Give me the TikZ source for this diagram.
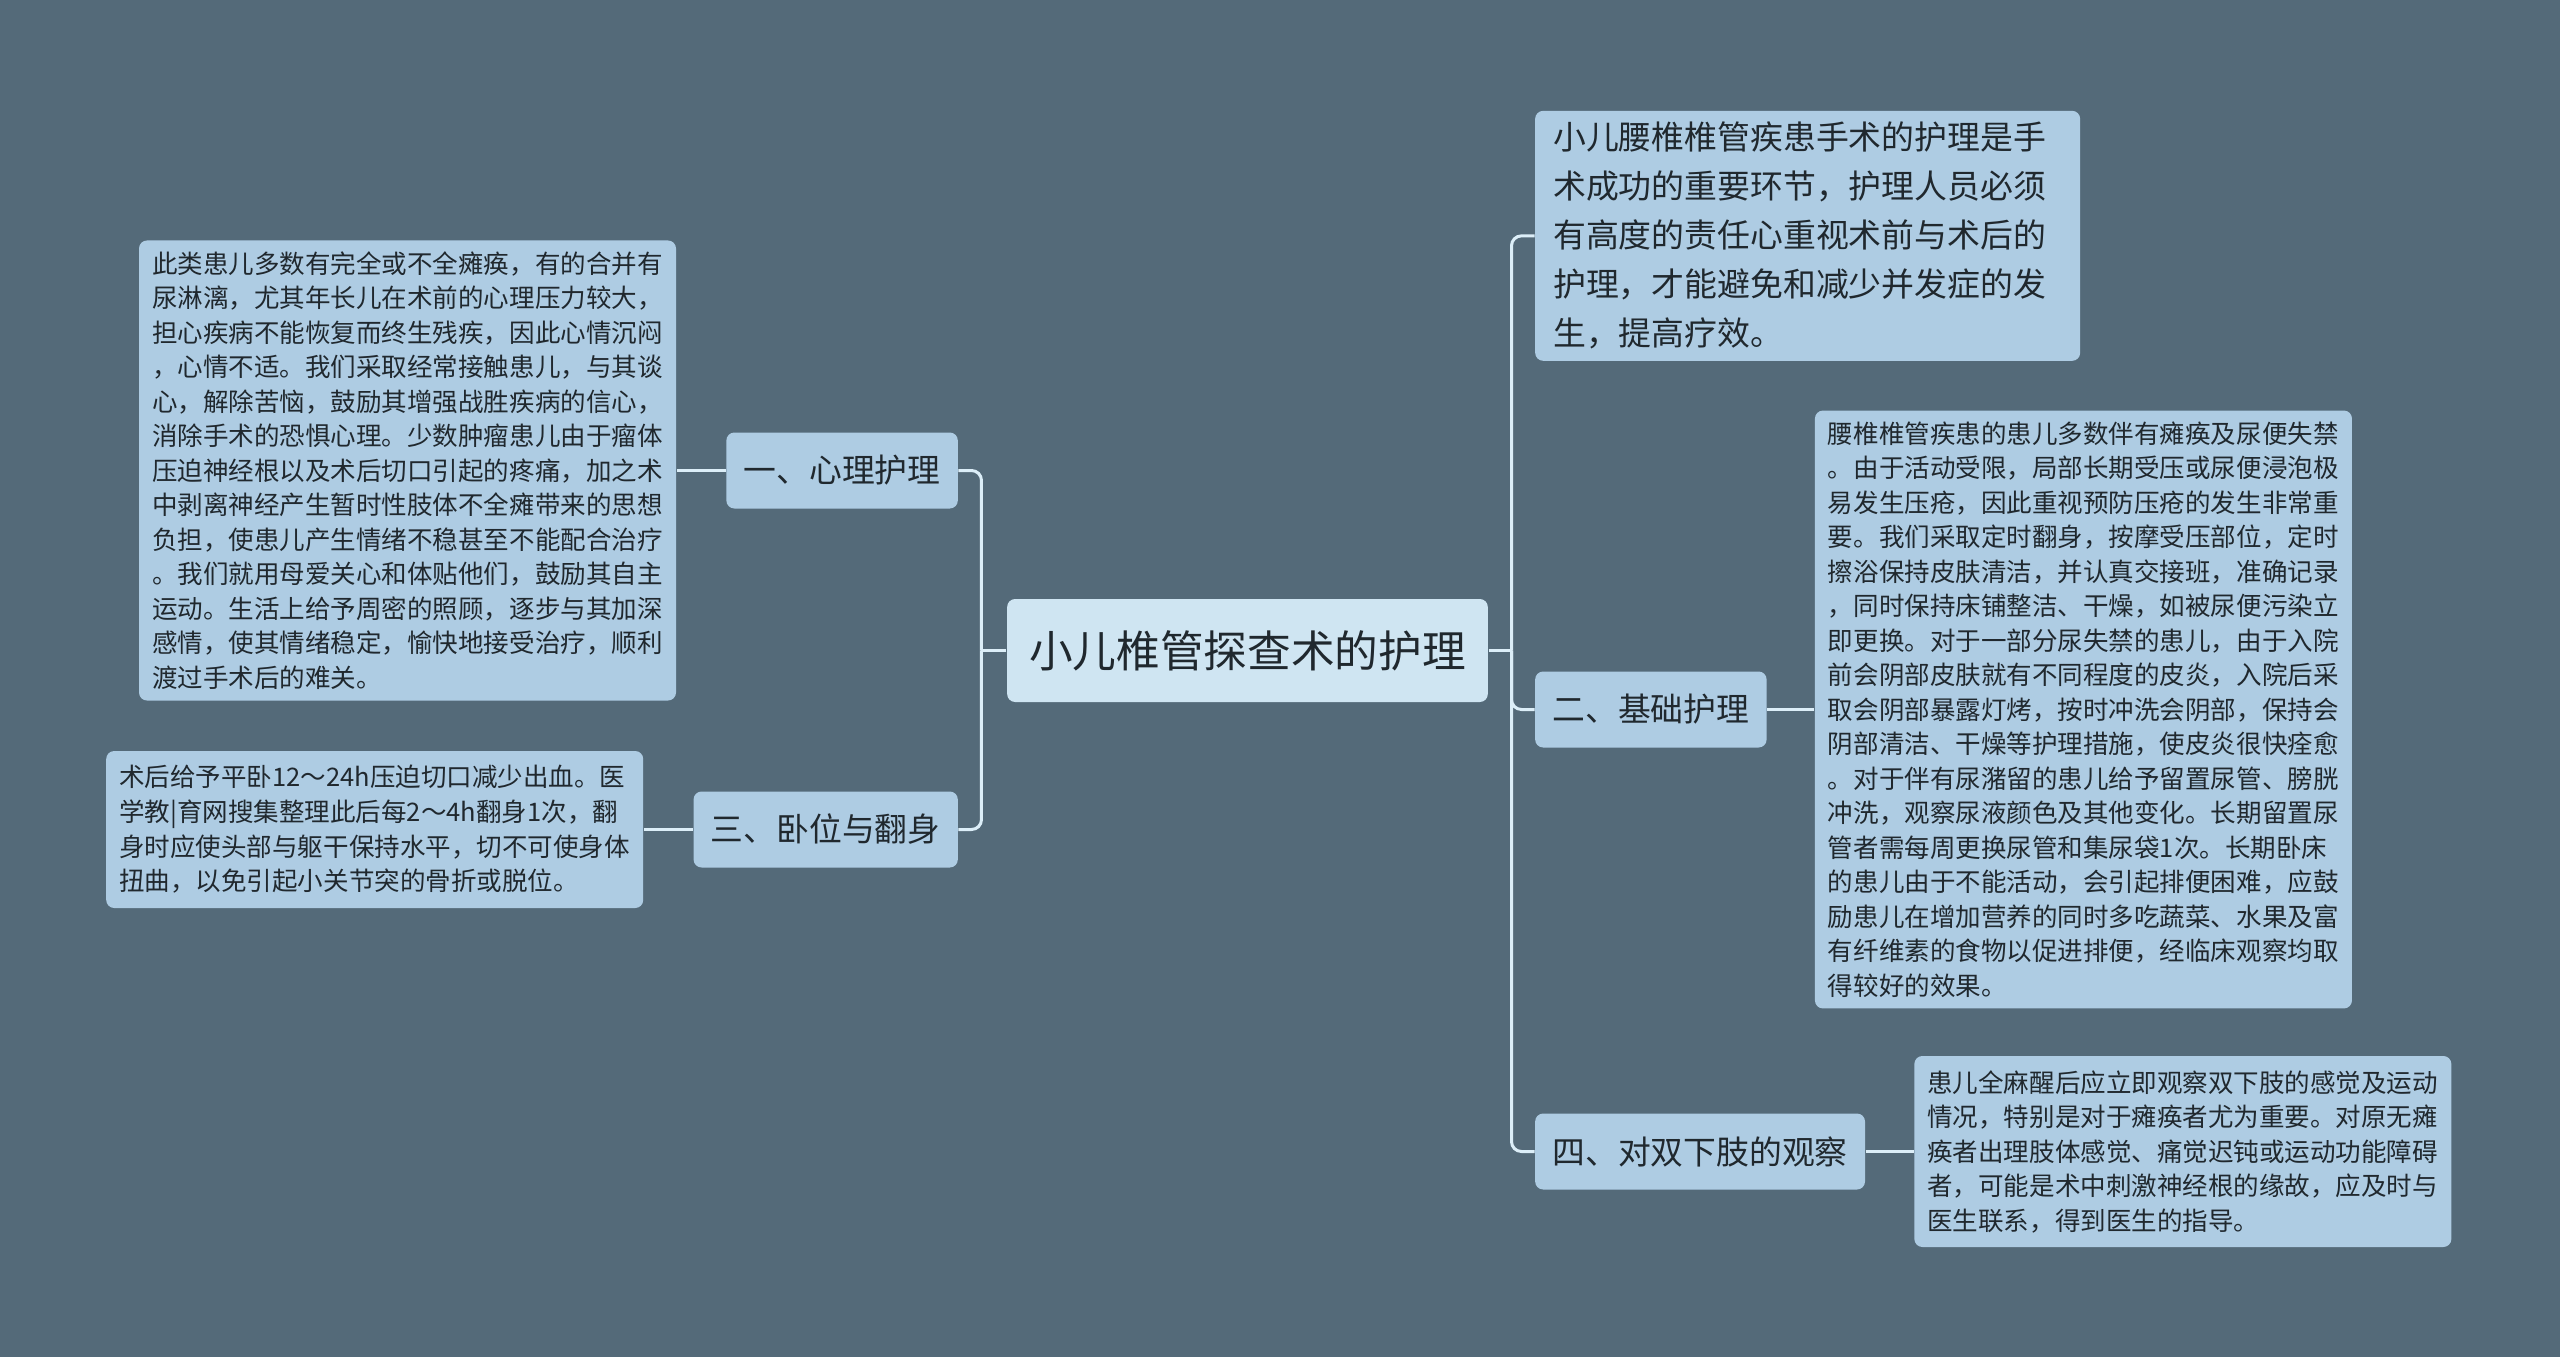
\documentclass[tikz,border=0pt]{standalone}
\usepackage{fontspec}
\setmainfont{Noto Sans CJK SC}
\usepackage{tikz}
\usetikzlibrary{positioning}
\definecolor{bgcol}{HTML}{546A79}
\definecolor{leafcol}{HTML}{AECCE3}
\definecolor{rootcol}{HTML}{CFE5F2}
\definecolor{wirecol}{HTML}{DCEEF8}
\definecolor{inkcol}{HTML}{20282E}
\tikzset{
    topic/.style={fill=rootcol,rounded corners=2.4pt,text=inkcol,
        font=\fontsize{13.1pt}{15pt}\selectfont,minimum height=30.9pt,inner xsep=6.6pt},
    branch/.style={fill=leafcol,rounded corners=2.4pt,text=inkcol,
        font=\fontsize{9.84pt}{12pt}\selectfont,minimum height=22.8pt,inner xsep=5.2pt},
    note/.style={fill=leafcol,rounded corners=2.4pt,text=inkcol,align=left,
        font=\fontsize{7.66pt}{10.35pt}\selectfont,text width=153.3pt,inner xsep=3.9pt},
    wire/.style={draw=wirecol,line width=0.9pt,rounded corners=3pt}
}

\begin{document}
\begin{tikzpicture}
    \useasboundingbox (-374.25pt,-211.95pt) rectangle (393.75pt,195.15pt);
    \fill[bgcol] (-374.25pt,-211.95pt) rectangle (393.75pt,195.15pt);
    % centre
    \node[topic] (root) at (0,0) {小儿椎管探查术的护理};
    % left side
    \node[branch] (psy) [left=14.4pt of root, yshift=54pt] {一、心理护理};
    \node[branch] (pos) [left=14.4pt of root, yshift=-53.7pt] {三、卧位与翻身};
    \node[note, minimum height=136.2pt] (psyt) [left=14.7pt of psy]
        {此类患儿多数有完全或不全瘫痪，有的合并有\\
         尿淋漓，尤其年长儿在术前的心理压力较大，\\
         担心疾病不能恢复而终生残疾，因此心情沉闷\\
         ，心情不适。我们采取经常接触患儿，与其谈\\
         心，解除苦恼，鼓励其增强战胜疾病的信心，\\
         消除手术的恐惧心理。少数肿瘤患儿由于瘤体\\
         压迫神经根以及术后切口引起的疼痛，加之术\\
         中剥离神经产生暂时性肢体不全瘫带来的思想\\
         负担，使患儿产生情绪不稳甚至不能配合治疗\\
         。我们就用母爱关心和体贴他们，鼓励其自主\\
         运动。生活上给予周密的照顾，逐步与其加深\\
         感情，使其情绪稳定，愉快地接受治疗，顺利\\
         渡过手术后的难关。};
    \node[note, minimum height=47.1pt, font=\fontsize{7.66pt}{10.4pt}\selectfont]
        (post) [left=14.7pt of pos]
        {术后给予平卧12～24h压迫切口减少出血。医\\
         学教|育网搜集整理此后每2～4h翻身1次，翻\\
         身时应使头部与躯干保持水平，切不可使身体\\
         扭曲，以免引起小关节突的骨折或脱位。};
    % right side
    \node[note, minimum height=75pt, text width=152.7pt, inner xsep=5.4pt,
        font=\fontsize{9.86pt}{14.7pt}\selectfont]
        (intro) [right=13.8pt of root, yshift=124.4pt]
        {小儿腰椎椎管疾患手术的护理是手\\
         术成功的重要环节，护理人员必须\\
         有高度的责任心重视术前与术后的\\
         护理，才能避免和减少并发症的发\\
         生，提高疗效。};
    \node[branch] (base) [right=13.8pt of root, yshift=-17.7pt] {二、基础护理};
    \node[branch] (obs) [right=13.8pt of root, yshift=-150.3pt] {四、对双下肢的观察};
    \node[note, minimum height=174.9pt] (baset) [right=14.1pt of base]
        {腰椎椎管疾患的患儿多数伴有瘫痪及尿便失禁\\
         。由于活动受限，局部长期受压或尿便浸泡极\\
         易发生压疮，因此重视预防压疮的发生非常重\\
         要。我们采取定时翻身，按摩受压部位，定时\\
         擦浴保持皮肤清洁，并认真交接班，准确记录\\
         ，同时保持床铺整洁、干燥，如被尿便污染立\\
         即更换。对于一部分尿失禁的患儿，由于入院\\
         前会阴部皮肤就有不同程度的皮炎，入院后采\\
         取会阴部暴露灯烤，按时冲洗会阴部，保持会\\
         阴部清洁、干燥等护理措施，使皮炎很快痊愈\\
         。对于伴有尿潴留的患儿给予留置尿管、膀胱\\
         冲洗，观察尿液颜色及其他变化。长期留置尿\\
         管者需每周更换尿管和集尿袋1次。长期卧床\\
         的患儿由于不能活动，会引起排便困难，应鼓\\
         励患儿在增加营养的同时多吃蔬菜、水果及富\\
         有纤维素的食物以促进排便，经临床观察均取\\
         得较好的效果。};
    \node[note, minimum height=57.3pt] (obst) [right=14.4pt of obs]
        {患儿全麻醒后应立即观察双下肢的感觉及运动\\
         情况，特别是对于瘫痪者尤为重要。对原无瘫\\
         痪者出理肢体感觉、痛觉迟钝或运动功能障碍\\
         者，可能是术中刺激神经根的缘故，应及时与\\
         医生联系，得到医生的指导。};
    % connectors
    \coordinate[left=7.5pt of root.west] (lj);
    \coordinate[right=6.9pt of root.east] (rj);
    \draw[wire] (root.west) -- (lj);
    \draw[wire] (lj) |- (psy.east);
    \draw[wire] (lj) |- (pos.east);
    \draw[wire] (root.east) -- (rj);
    \draw[wire] (rj) |- (intro.west);
    \draw[wire] (rj) |- (base.west);
    \draw[wire] (rj) |- (obs.west);
    \draw[wire] (psy) -- (psyt);
    \draw[wire] (pos) -- (post);
    \draw[wire] (base) -- (baset);
    \draw[wire] (obs) -- (obst);
\end{tikzpicture}
\end{document}
